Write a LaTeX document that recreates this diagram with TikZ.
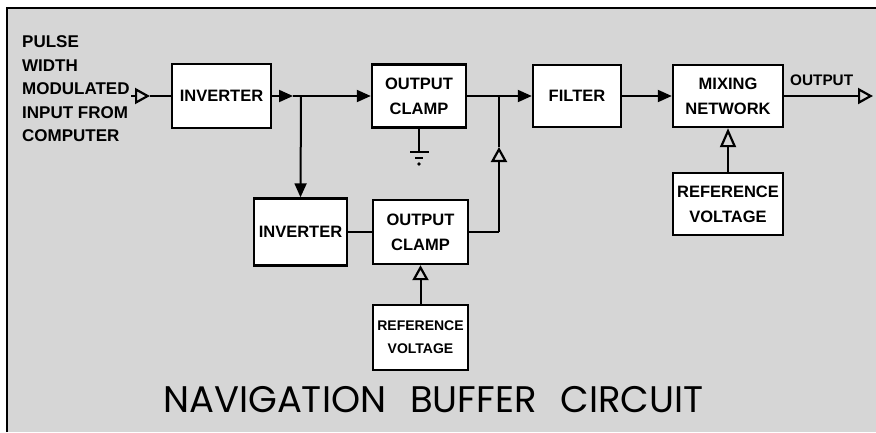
\documentclass[tikz,border=0pt]{standalone}
\usepackage{fontspec}
\setmainfont{Liberation Sans}
\newfontfamily\titlefont{Poppins}
\usetikzlibrary{arrows.meta}
\definecolor{bggray}{gray}{0.84}
\tikzset{
  blockbox/.style={draw, line width=2.4pt, fill=white, inner sep=0pt, align=center,
    font=\bfseries\fontsize{16.5}{25}\selectfont},
  wire/.style={line width=2pt},
  fillarrow/.style={-{Triangle[length=14pt,width=12pt]}},
  openarrow/.style={-{Triangle[open,length=15pt,width=16pt,line width=2.2pt]}},
  longopen/.style={-{Triangle[open,length=19pt,width=16pt,line width=2.2pt]}},
  lbl/.style={font=\bfseries\fontsize{17}{23.5}\selectfont, inner sep=0pt, align=left}
}
\begin{document}
\begin{tikzpicture}[x=1pt,y=-1pt]
\useasboundingbox (0,0) rectangle (876,432);
\fill[white] (0,0) rectangle (876,432);
\fill[bggray] (7,8) rectangle (876,432);
\draw[line width=2.6pt] (7,432) -- (7,8) -- (876,8);

% blocks
\node[blockbox, minimum width=99pt, minimum height=64pt] (inv1) at (221.5,96) {INVERTER};
\node[blockbox, minimum width=94pt, minimum height=63pt] (oc1) at (419,96) {OUTPUT\\CLAMP};
\node[blockbox, minimum width=88pt, minimum height=62pt] (filt) at (577,96) {FILTER};
\node[blockbox, minimum width=110pt, minimum height=62pt] (mix) at (728,96) {MIXING\\NETWORK};
\node[blockbox, minimum width=110pt, minimum height=62pt] (rv2) at (728,204) {REFERENCE\\VOLTAGE};
\node[blockbox, minimum width=93pt, minimum height=67pt] (inv2) at (300.5,232) {INVERTER};
\node[blockbox, minimum width=95pt, minimum height=64pt] (oc2) at (420.5,232) {OUTPUT\\CLAMP};
\node[blockbox, minimum width=95pt, minimum height=65pt, font=\bfseries\fontsize{14}{23}\selectfont] (rv1) at (420.5,337.5) {REFERENCE\\VOLTAGE};

% texts
\node[lbl, anchor=north west] (inlbl) at (22,35.5) {PULSE\\WIDTH\\MODULATED\\INPUT FROM\\COMPUTER};
\node[font=\bfseries\fontsize{15.3}{18}\selectfont, inner sep=0pt, anchor=base west] (outlbl) at (790,85) {OUTPUT};
\node[font=\titlefont\fontsize{37}{40}\selectfont, inner sep=0pt, anchor=base west] (title) at (163,412) {NAVIGATION\hspace{24pt}BUFFER\hspace{24pt}CIRCUIT};

% coordinates
\coordinate (in1) at (131,96);
\coordinate (inTip) at (150,96);
\coordinate (a1) at (293,96);
\coordinate (j1) at (301,96);
\coordinate (j2) at (499,96);
\coordinate (j2b) at (499,232);
\coordinate (j2m) at (499,147);
\coordinate (out) at (873,96);
\coordinate (gnd) at (419,152);

% input
\draw[wire, openarrow] (in1) -- (inTip);
\draw[wire] (inTip) -- (inv1.west);
% inverter 1 to output clamp 1
\draw[wire, fillarrow] (inv1.east) -- (a1);
\draw[wire, fillarrow] (a1) -- (oc1.west);
\draw[wire, fillarrow] (j1) -- (inv2.north);
% inverter 2 to output clamp 2
\draw[wire] (inv2.east) -- (oc2.west);
% output clamp 2 up to main line
\draw[wire] (oc2.east) -- (j2b);
\draw[wire, openarrow] (j2b) -- (j2m);
\draw[wire] (j2m) -- (j2);
% output clamp 1 to filter
\draw[wire, fillarrow] (oc1.east) -- (filt.west);
\draw[wire, fillarrow] (filt.east) -- (mix.west);
\draw[wire, openarrow] (mix.east) -- (out);
\draw[wire, longopen] (rv2.north) -- (mix.south);
\draw[wire, openarrow] (rv1.north) -- (oc2.south);
% ground
\draw[wire] (oc1.south) -- (gnd);
\draw[line width=2.4pt] (410,152) -- (429,152);
\draw[line width=1.8pt] (415,158) -- (423,158);
\fill (419,164) circle (1.8pt);
\end{tikzpicture}
\end{document}
